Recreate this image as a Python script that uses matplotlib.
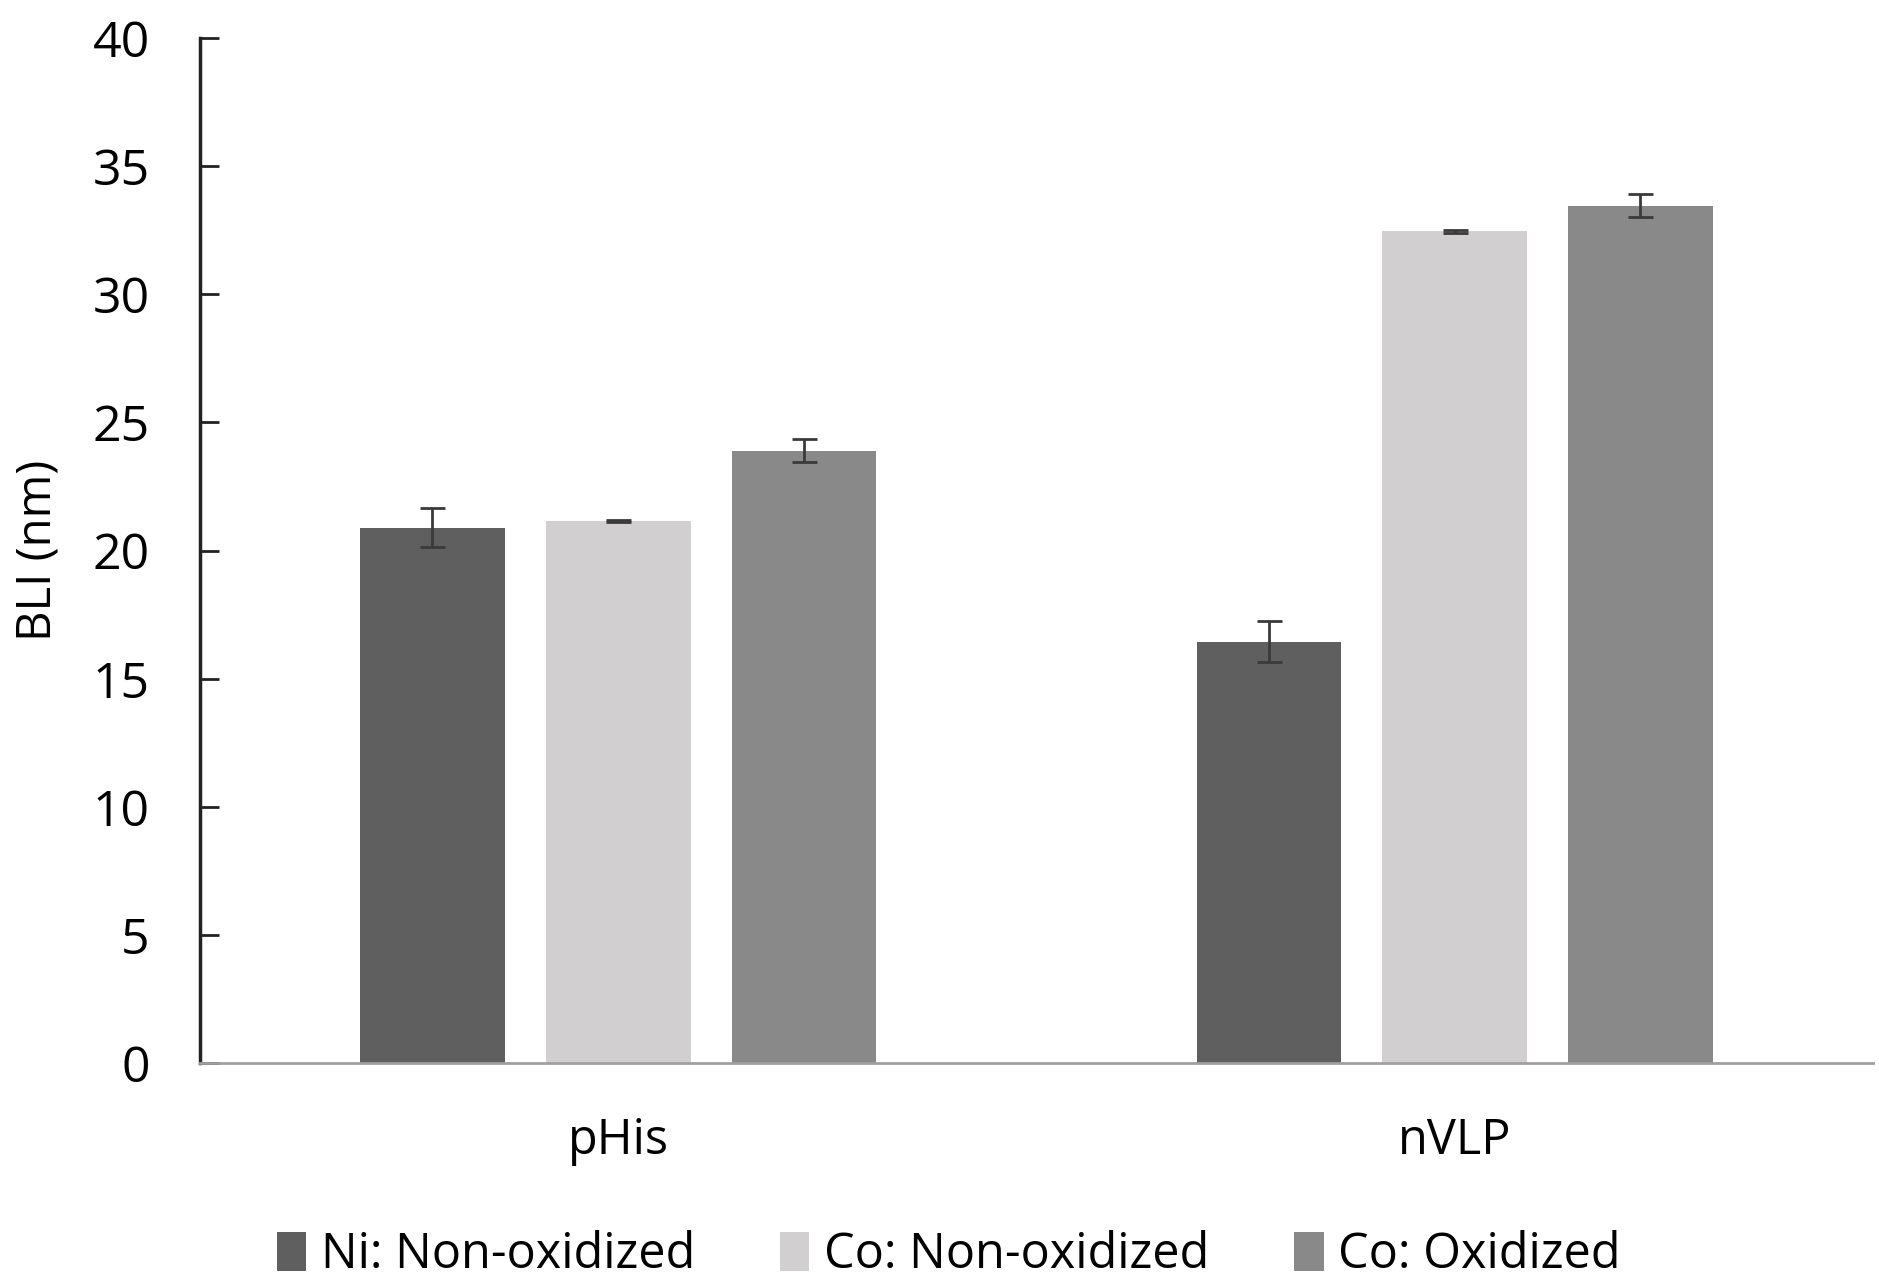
import matplotlib.pyplot as plt
import numpy as np

plt.rcParams['font.family'] = ['Open Sans', 'DejaVu Sans']

categories = ['pHis', 'nVLP']
series = ['Ni: Non-oxidized', 'Co: Non-oxidized', 'Co: Oxidized']
values = [
    [20.9, 16.45],   # Ni: Non-oxidized
    [21.15, 32.45],  # Co: Non-oxidized
    [23.9, 33.45],   # Co: Oxidized
]
errors = [
    [0.75, 0.8],
    [0.05, 0.05],
    [0.45, 0.45],
]
colors = ['#5f5f5f', '#d1cfd0', '#898989']
yticks = [0, 5, 10, 15, 20, 25, 30, 35, 40]

fig = plt.figure(figsize=(18.79, 12.78), dpi=100)
ax = fig.add_axes([0.1064, 0.168, 0.8904, 0.8023])

x = np.arange(len(categories))
width = 0.173
step = 0.222
for i, (name, vals, errs, col) in enumerate(zip(series, values, errors, colors)):
    ax.bar(x + (i - 1) * step, vals, width, color=col, label=name,
           yerr=errs, capsize=9,
           error_kw=dict(ecolor='#3a3a3a', elinewidth=2, capthick=2))

ax.set_xlim(-0.5, 1.5)
ax.set_ylim(0, 40)
ax.set_yticks(yticks)
ax.set_xticks(x)
ax.set_xticklabels(categories)
ax.tick_params(axis='y', direction='in', length=14, width=2, labelsize=36,
               pad=36, color='#222222')
ax.tick_params(axis='x', length=0, labelsize=35, pad=38)
ax.set_ylabel('BLI (nm)', fontsize=34)
ax.yaxis.set_label_coords(-0.083, 0.5)

for side in ['top', 'right']:
    ax.spines[side].set_visible(False)
ax.spines['left'].set_linewidth(2.5)
ax.spines['left'].set_color('#222222')
ax.spines['bottom'].set_linewidth(2)
ax.spines['bottom'].set_color('#a0a0a0')

fig.legend(loc='lower center', bbox_to_anchor=(0.505, -0.036), ncol=3,
           frameon=False, fontsize=35, handlelength=0.6, handleheight=0.85,
           handletextpad=0.3, columnspacing=1.75)

plt.savefig('out.png', dpi=100)
